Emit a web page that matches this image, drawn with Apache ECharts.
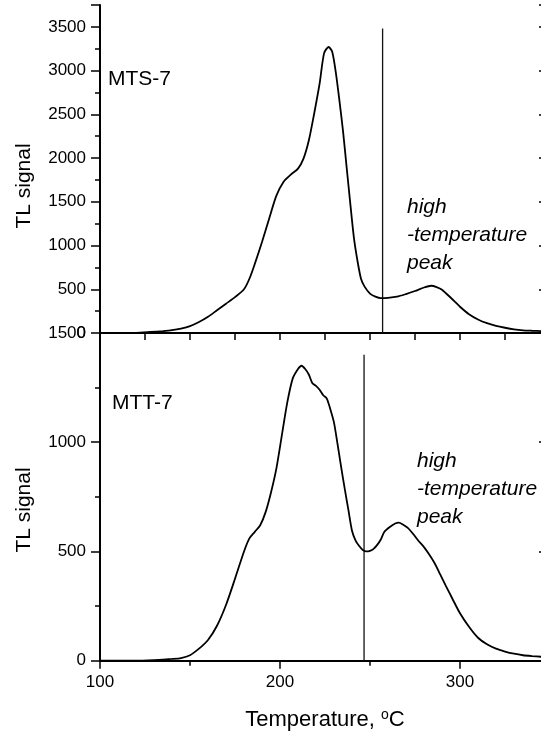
<!DOCTYPE html>
<html>
<head>
<meta charset="utf-8">
<script src="https://cdn.jsdelivr.net/npm/echarts@6/dist/echarts.min.js"></script>
<style>
html,body{margin:0;padding:0;background:#fff;}
#chart{width:541px;height:735px;}
</style>
</head>
<body>
<div id="chart"></div>
<script>
// ---- Data ----
const tempTop = [100,110,120,128,135,140,145,150,155,160,165,170,175,180,183,186,190,194,198,202,206,210,213,216,219,222,224.5,227,229,231,233,235,237,239,241,243,245,247,250,253,256,260,265,270,275,280,284,287,290,295,300,305,310,315,320,325,330,335,340,345,350];
const signalTop = [0,0,2,12,22,32,50,78,125,185,260,335,410,500,620,790,1040,1310,1570,1730,1810,1880,1990,2200,2510,2850,3200,3270,3215,2980,2660,2310,1900,1490,1100,830,620,530,450,415,398,402,415,445,480,520,540,525,495,400,300,215,155,112,82,60,42,31,26,22,20];

const tempBottom = [100,120,130,140,145,150,155,160,165,170,175,180,183,186,189,192,195,198,201,204,207,210,212,214,216,218,220,222,224,226,228,230,232,234,236,238,240,242,244,246,248,250,252,254,256,258,261,264,266,268,271,274,277,280,283,286,289,292,296,300,305,310,315,320,325,330,335,340,345,350];
const signalBottom = [0,0,3,8,12,25,55,95,160,255,375,500,560,590,620,680,770,880,1030,1180,1290,1335,1350,1335,1310,1270,1258,1240,1215,1200,1150,1090,990,885,785,690,595,550,525,507,500,503,512,530,555,590,612,628,632,625,608,580,548,520,485,445,395,345,280,217,155,105,75,55,42,32,25,21,18,16];

const markerTopTemp = 257, markerTopHeight = 3480;
const markerBottomTemp = 246.7, markerBottomHeight = 1400;

const xTicksBottom = [100, 200, 300];
const sampleTop = 'MTS-7', sampleBottom = 'MTT-7';
const peakNote = 'high\n-temperature\npeak';
const yName = 'TL signal';
const xName = 'Temperature, {s|o}C';

// ---- Chart ----
const FONT = '"Liberation Sans", Arial, sans-serif';
const chart = echarts.init(document.getElementById('chart'));
const zip = (a, b) => a.map((v, i) => [v, b[i]]);

const axisLine = {show: true, lineStyle: {color: '#000', width: 2}};
const noLabel = {show: false};
const noSplit = {show: false};
const plain = v => String(v);

const option = {
  animation: false,
  backgroundColor: '#fff',
  grid: [
    {left: 100, top: 5, width: 450, height: 328, outerBoundsMode: 'none', containLabel: false},
    {left: 100, top: 333, width: 450, height: 327.7, outerBoundsMode: 'none', containLabel: false}
  ],
  xAxis: [
    {gridIndex: 0, type: 'value', min: 100, max: 350, interval: 25, position: 'bottom',
     axisLine: axisLine, axisTick: {show: true, inside: false, length: 7, lineStyle: {width: 1.5, color: '#000'}},
     axisLabel: noLabel, splitLine: noSplit},
    {gridIndex: 0, type: 'value', min: 100, max: 350, interval: 25, position: 'top',
     axisLine: axisLine, axisTick: {show: true, inside: true, length: 7, lineStyle: {width: 1.5, color: '#000'}},
     axisLabel: noLabel, splitLine: noSplit},
    {gridIndex: 1, type: 'value', min: 100, max: 350, interval: 100, position: 'bottom',
     axisLine: axisLine,
     axisTick: {show: true, inside: false, length: 8, lineStyle: {width: 1.5, color: '#000'}},
     minorTick: {show: true, splitNumber: 2, length: 5, lineStyle: {width: 1.5, color: '#000'}},
     axisLabel: {show: true, color: '#000', fontSize: 17, fontFamily: FONT, margin: 13,
       formatter: v => xTicksBottom.indexOf(v) >= 0 ? String(v) : ''},
     splitLine: noSplit, minorSplitLine: noSplit,
     name: xName, nameLocation: 'middle', nameGap: 47,
     nameTextStyle: {color: '#000', fontSize: 22, fontFamily: FONT, lineHeight: 25,
       rich: {s: {fontSize: 14, fontFamily: FONT, color: '#000', verticalAlign: 'top', lineHeight: 25, padding: [0, 0, 10, 0]}}}}
  ],
  yAxis: [
    {gridIndex: 0, type: 'value', min: 0, max: 3750, interval: 500, position: 'left',
     axisLine: axisLine,
     axisTick: {show: true, inside: false, length: 9, lineStyle: {width: 1.5, color: '#000'}},
     minorTick: {show: true, splitNumber: 2, length: 5, lineStyle: {width: 1.5, color: '#000'}},
     axisLabel: {show: true, color: '#000', fontSize: 17, fontFamily: FONT, margin: 14, showMaxLabel: false, formatter: plain},
     splitLine: noSplit, minorSplitLine: noSplit},
    {gridIndex: 0, type: 'value', min: 0, max: 3750, interval: 500, position: 'right',
     axisLine: axisLine, axisTick: {show: true, inside: true, length: 11, lineStyle: {width: 1.5, color: '#000'}},
     axisLabel: noLabel, splitLine: noSplit},
    {gridIndex: 1, type: 'value', min: 0, max: 1500, interval: 500, position: 'left',
     axisLine: axisLine,
     axisTick: {show: true, inside: false, length: 9, lineStyle: {width: 1.5, color: '#000'}},
     minorTick: {show: true, splitNumber: 2, length: 5, lineStyle: {width: 1.5, color: '#000'}},
     axisLabel: {show: true, color: '#000', fontSize: 17, fontFamily: FONT, margin: 14, formatter: plain},
     splitLine: noSplit, minorSplitLine: noSplit},
    {gridIndex: 1, type: 'value', min: 0, max: 1500, interval: 500, position: 'right',
     axisLine: axisLine, axisTick: {show: true, inside: true, length: 11, lineStyle: {width: 1.5, color: '#000'}},
     axisLabel: noLabel, splitLine: noSplit}
  ],
  series: [
    {type: 'line', xAxisIndex: 0, yAxisIndex: 0, data: zip(tempTop, signalTop), showSymbol: false,
     smooth: 0.25, lineStyle: {color: '#000', width: 1.8}, z: 3},
    {type: 'line', xAxisIndex: 2, yAxisIndex: 2, data: zip(tempBottom, signalBottom), showSymbol: false,
     smooth: 0.25, lineStyle: {color: '#000', width: 1.8}, z: 3},
    {type: 'line', xAxisIndex: 0, yAxisIndex: 0, data: [[markerTopTemp, 0], [markerTopTemp, markerTopHeight]],
     showSymbol: false, lineStyle: {color: '#111', width: 1.3}, z: 2},
    {type: 'line', xAxisIndex: 2, yAxisIndex: 2, data: [[markerBottomTemp, 0], [markerBottomTemp, markerBottomHeight]],
     showSymbol: false, lineStyle: {color: '#111', width: 1.3}, z: 2}
  ],
  graphic: [
    {type: 'text', x: 108, y: 79, style: {text: sampleTop, font: '21px ' + FONT, fill: '#000', verticalAlign: 'middle'}},
    {type: 'text', x: 112, y: 403, style: {text: sampleBottom, font: '21px ' + FONT, fill: '#000', verticalAlign: 'middle'}},
    {type: 'text', x: 407, y: 193, style: {text: peakNote, font: 'italic 21px ' + FONT, fill: '#000', lineHeight: 28, verticalAlign: 'top'}},
    {type: 'text', x: 417, y: 447, style: {text: peakNote, font: 'italic 21px ' + FONT, fill: '#000', lineHeight: 28, verticalAlign: 'top'}},
    {type: 'text', x: 24, y: 186, rotation: Math.PI / 2, style: {text: yName, font: '21px ' + FONT, fill: '#000', align: 'center', verticalAlign: 'middle'}},
    {type: 'text', x: 24, y: 510, rotation: Math.PI / 2, style: {text: yName, font: '21px ' + FONT, fill: '#000', align: 'center', verticalAlign: 'middle'}}
  ]
};
chart.setOption(option);
</script>
</body>
</html>
